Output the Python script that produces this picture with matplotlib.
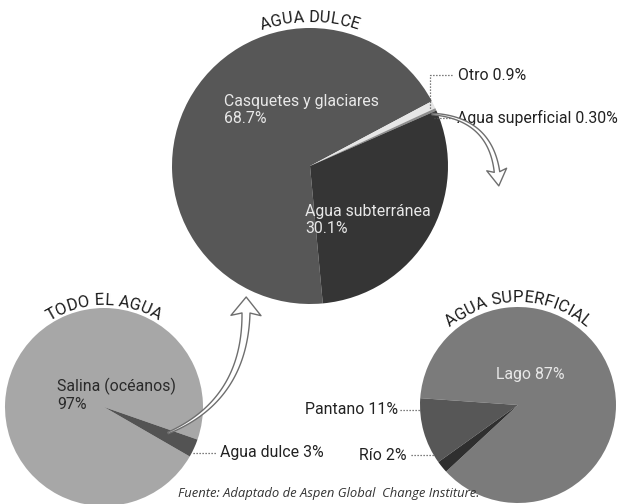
import numpy as np
import matplotlib
matplotlib.use("Agg")
import matplotlib.pyplot as plt
from matplotlib.patches import Polygon
from matplotlib.font_manager import FontProperties
from matplotlib.textpath import TextToPath

# ---- data -------------------------------------------------------------
todo_labels = ["Salina (océanos)", "Agua dulce"]
todo_values = [97, 3]

dulce_labels = ["Casquetes y glaciares", "Otro", "Agua superficial", "Agua subterránea"]
dulce_values = [68.7, 0.9, 0.30, 30.1]

superficial_labels = ["Lago", "Pantano", "Río"]
superficial_values = [87, 11, 2]

titles = ["TODO EL AGUA", "AGUA DULCE", "AGUA SUPERFICIAL"]
source = "Fuente: Adaptado de Aspen Global  Change Institure."

# ---- layout (pixel canvas, origin top-left) ---------------------------
W, H = 625, 504
FONT = "Roboto"
DARK_TXT = "#222222"
LIGHT_TXT = "#e8e8e8"


def P(x, y):
    return (x, H - y)


fig = plt.figure(figsize=(W / 100, H / 100), dpi=100)
ax = fig.add_axes([0, 0, 1, 1])

# pies: (center x, center y, radius) in pixels
c_todo = (104, 407, 99)
c_dulce = (310, 166, 138)
c_sup = (518, 405, 98)

ax.pie(todo_values, center=P(c_todo[0], c_todo[1]), radius=c_todo[2],
       colors=["#a7a7a7", "#535353"], startangle=-19.2, counterclock=True,
       wedgeprops=dict(linewidth=0))
ax.pie(dulce_values, center=P(c_dulce[0], c_dulce[1]), radius=c_dulce[2],
       colors=["#575757", "#e6e6e6", "#8e8e8e", "#353535"],
       startangle=28 + 360 * dulce_values[0] / 100, counterclock=False,
       wedgeprops=dict(linewidth=0))
ax.pie(superficial_values, center=P(c_sup[0], c_sup[1]), radius=c_sup[2],
       colors=["#7b7b7b", "#575757", "#2f2f2f"], startangle=-137.2,
       counterclock=True, wedgeprops=dict(linewidth=0))

ax.set_xlim(0, W)
ax.set_ylim(0, H)
ax.set_aspect("equal")
ax.axis("off")

# ---- curved titles -----------------------------------------------------
ttp = TextToPath()


def text_w(s, fp):
    return ttp.get_text_width_height_descent(s, fp, ismath=False)[0] * 100 / 72


def arc_text(s, cx, cy, R, fs, color="#1a1a1a"):
    fp = FontProperties(family=FONT, size=fs)
    base = text_w("HH", fp)
    adv = [text_w("H" + ch + "H", fp) - base for ch in s]
    total = sum(adv)
    pos = 0.0
    x0, y0 = P(cx, cy)
    for ch, a in zip(s, adv):
        sc = pos + a / 2 - total / 2
        th = np.pi / 2 - sc / R
        ax.text(x0 + R * np.cos(th), y0 + R * np.sin(th), ch, fontproperties=fp,
                color=color, rotation=np.degrees(th) - 90,
                rotation_mode="anchor", ha="center", va="baseline")
        pos += a


arc_text(titles[0], c_todo[0], c_todo[1], c_todo[2] + 3, 12)
arc_text(titles[1], c_dulce[0], c_dulce[1], c_dulce[2] + 6, 11.8)
arc_text(titles[2], c_sup[0], c_sup[1], c_sup[2] + 5, 12)

# ---- slice labels --------------------------------------------------------
LFS = 11.4


def label(x, y, s, color=DARK_TXT, ha="left", va="center"):
    ax.text(*P(x, y), s, family=FONT, fontsize=LFS, color=color, ha=ha, va=va,
            linespacing=1.2)


def pct(v):
    return f"{v:g}%"


label(224, 110, f"{dulce_labels[0]}\n{pct(dulce_values[0])}", LIGHT_TXT)
label(305, 220, f"{dulce_labels[3]}\n{pct(dulce_values[3])}", LIGHT_TXT)
label(458, 75, f"{dulce_labels[1]} {pct(dulce_values[1])}")
label(457, 118, f"{dulce_labels[2]} {dulce_values[2]:.2f}%")

label(57, 395, f"{todo_labels[0]}\n{pct(todo_values[0])}", "#2a2a2a")
label(220, 453, f"{todo_labels[1]} {pct(todo_values[1])}")

label(530, 375, f"{superficial_labels[0]} {pct(superficial_values[0])}", LIGHT_TXT, ha="center")
label(398, 410, f"{superficial_labels[1]} {pct(superficial_values[1])}", ha="right")
label(407, 455, f"{superficial_labels[2]} {pct(superficial_values[2])}", ha="right")

# dotted leaders
lead = dict(color="#555555", lw=0.9, linestyle=(0, (1, 1.4)))
for pts in [[(452, 75), (430, 75), (430, 110)],
            [(453, 118), (434, 118)],
            [(193, 453), (217, 453)],
            [(400, 410), (422, 410)],
            [(411, 455), (436, 455)]]:
    xs, ys = zip(*[P(x, y) for x, y in pts])
    ax.plot(xs, ys, **lead)


# ---- hollow curved arrows ---------------------------------------------
def hollow_arrow(p0, p1, p2, w0, w1, head_w, head_len):
    p0, p1, p2 = (np.array(P(*p)) for p in (p0, p1, p2))
    t = np.linspace(0, 1, 80)[:, None]
    pts = (1 - t) ** 2 * p0 + 2 * (1 - t) * t * p1 + t ** 2 * p2
    d = 2 * (1 - t) * (p1 - p0) + 2 * t * (p2 - p1)
    d = d / np.linalg.norm(d, axis=1, keepdims=True)
    n = np.column_stack([-d[:, 1], d[:, 0]])
    w = (w0 + (w1 - w0) * t) / 2
    left = pts + n * w
    right = pts - n * w
    te, ne = d[-1], n[-1]
    tip = p2 + te * head_len
    hl = p2 + ne * head_w / 2 - te * 2.5
    hr = p2 - ne * head_w / 2 - te * 2.5
    poly = np.vstack([left, hl, tip, hr, right[::-1]])
    ax.add_patch(Polygon(poly, closed=True, facecolor="white",
                         edgecolor="#6e6e6e", lw=1.0, joinstyle="round",
                         zorder=5))


hollow_arrow((168, 433), (245, 400), (246, 313), 1.5, 8, 30, 16)
hollow_arrow((432, 114), (490, 118), (497, 172), 1.5, 5.5, 20, 14)

# ---- source note -------------------------------------------------------
ax.text(*P(329, 494), source, family="Open Sans", style="italic",
        fontsize=9.4, color="#333333", ha="center", va="center")

fig.savefig("out.png", dpi=100)
